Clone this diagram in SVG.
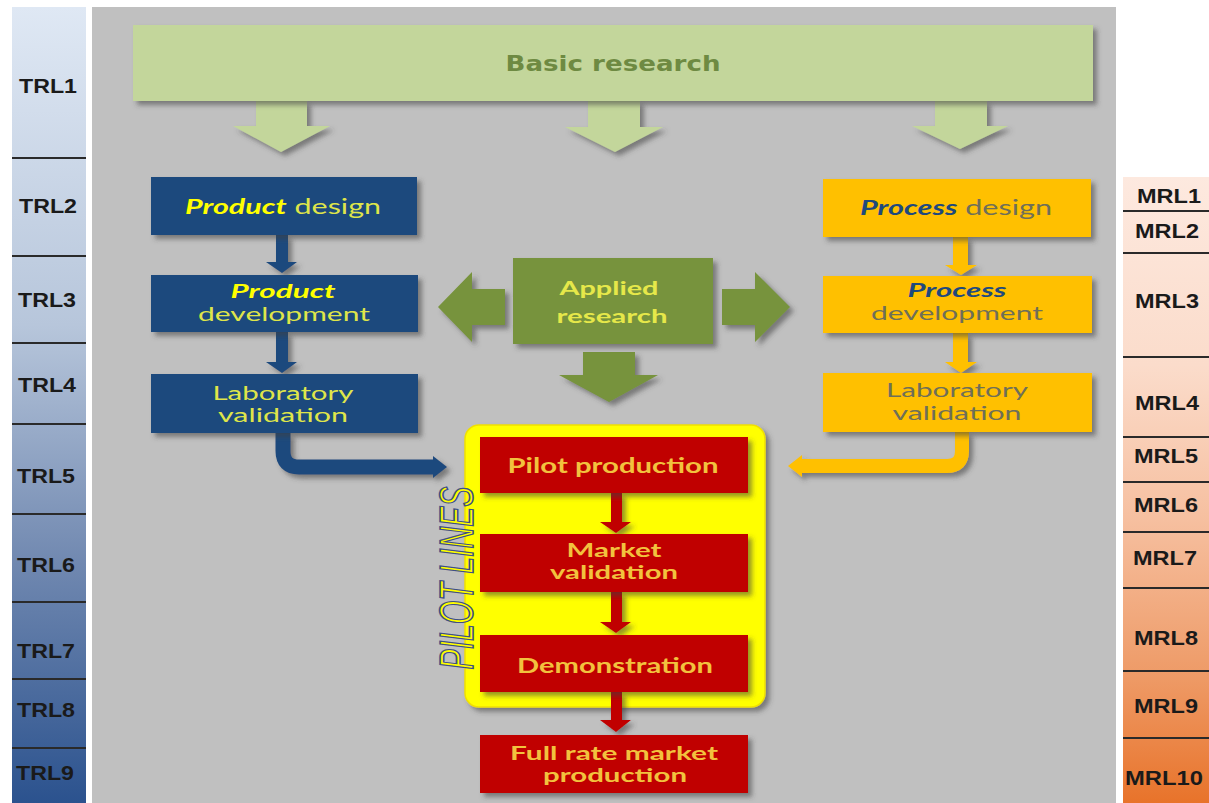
<svg xmlns="http://www.w3.org/2000/svg" width="1209" height="803" viewBox="0 0 1209 803">
<defs>
<linearGradient id="trlGrad" x1="0" y1="7" x2="0" y2="803" gradientUnits="userSpaceOnUse">
<stop offset="0" stop-color="#dfe8f4"/>
<stop offset="0.4" stop-color="#b7c6db"/>
<stop offset="0.7" stop-color="#7088b0"/>
<stop offset="1" stop-color="#2b528e"/>
</linearGradient>
<linearGradient id="mrlGrad" x1="0" y1="177" x2="0" y2="803" gradientUnits="userSpaceOnUse">
<stop offset="0" stop-color="#fde9df"/>
<stop offset="0.3" stop-color="#fbdccb"/>
<stop offset="0.55" stop-color="#f6bf9f"/>
<stop offset="0.8" stop-color="#ee9a66"/>
<stop offset="1" stop-color="#e8732a"/>
</linearGradient>
<filter id="shd" x="-10%" y="-10%" width="130%" height="140%">
<feDropShadow dx="4" dy="4" stdDeviation="2.5" flood-color="#404040" flood-opacity="0.55"/>
</filter>
<style>
.lvl{font-family:"Liberation Sans",Arial,sans-serif;font-weight:bold;font-size:20px;fill:#1a1a1a;text-anchor:middle}
.div{stroke:#2a2a2a;stroke-width:2}
.box{font-family:Lato,"Liberation Sans",sans-serif;font-size:21px;text-anchor:middle}
.two{font-size:18.5px}
.blueT{fill:#dfe54a}
.em{font-weight:bold;font-style:italic}
.redT{fill:#f2c23e;font-weight:bold}
.appT{fill:#e6e84a;font-weight:bold}
.orgT{fill:#6f6f58}
</style>
</defs>

<!-- background -->
<rect x="0" y="0" width="1209" height="803" fill="#ffffff"/>
<rect x="92" y="7" width="1024" height="796" fill="#c0c0c0"/>

<!-- TRL scale -->
<g id="trl-scale">
<rect x="12" y="7" width="74" height="796" fill="url(#trlGrad)"/>
<line class="div" x1="12" y1="158" x2="86" y2="158"/>
<line class="div" x1="12" y1="256" x2="86" y2="256"/>
<line class="div" x1="12" y1="343" x2="86" y2="343"/>
<line class="div" x1="12" y1="424" x2="86" y2="424"/>
<line class="div" x1="12" y1="514" x2="86" y2="514"/>
<line class="div" x1="12" y1="602" x2="86" y2="602"/>
<line class="div" x1="12" y1="679" x2="86" y2="679"/>
<line class="div" x1="12" y1="748" x2="86" y2="748"/>
<text class="lvl" x="48" y="93" textLength="58" lengthAdjust="spacingAndGlyphs">TRL1</text>
<text class="lvl" x="48" y="213" textLength="58" lengthAdjust="spacingAndGlyphs">TRL2</text>
<text class="lvl" x="47" y="307" textLength="58" lengthAdjust="spacingAndGlyphs">TRL3</text>
<text class="lvl" x="47" y="392" textLength="58" lengthAdjust="spacingAndGlyphs">TRL4</text>
<text class="lvl" x="46" y="483" textLength="58" lengthAdjust="spacingAndGlyphs">TRL5</text>
<text class="lvl" x="46" y="572" textLength="58" lengthAdjust="spacingAndGlyphs">TRL6</text>
<text class="lvl" x="46" y="658" textLength="58" lengthAdjust="spacingAndGlyphs">TRL7</text>
<text class="lvl" x="46" y="717" textLength="58" lengthAdjust="spacingAndGlyphs">TRL8</text>
<text class="lvl" x="45" y="780" textLength="58" lengthAdjust="spacingAndGlyphs">TRL9</text>
</g>

<!-- MRL scale -->
<g id="mrl-scale">
<rect x="1123" y="177" width="86" height="626" fill="url(#mrlGrad)"/>
<line class="div" x1="1123" y1="211" x2="1209" y2="211"/>
<line class="div" x1="1123" y1="253" x2="1209" y2="253"/>
<line class="div" x1="1123" y1="357" x2="1209" y2="357"/>
<line class="div" x1="1123" y1="437" x2="1209" y2="437"/>
<line class="div" x1="1123" y1="482" x2="1209" y2="482"/>
<line class="div" x1="1123" y1="532" x2="1209" y2="532"/>
<line class="div" x1="1123" y1="588" x2="1209" y2="588"/>
<line class="div" x1="1123" y1="671" x2="1209" y2="671"/>
<line class="div" x1="1123" y1="738" x2="1209" y2="738"/>
<text class="lvl" x="1169" y="203" textLength="64" lengthAdjust="spacingAndGlyphs">MRL1</text>
<text class="lvl" x="1167" y="238" textLength="64" lengthAdjust="spacingAndGlyphs">MRL2</text>
<text class="lvl" x="1167" y="308" textLength="64" lengthAdjust="spacingAndGlyphs">MRL3</text>
<text class="lvl" x="1167" y="410" textLength="64" lengthAdjust="spacingAndGlyphs">MRL4</text>
<text class="lvl" x="1166" y="463" textLength="64" lengthAdjust="spacingAndGlyphs">MRL5</text>
<text class="lvl" x="1166" y="512" textLength="64" lengthAdjust="spacingAndGlyphs">MRL6</text>
<text class="lvl" x="1165" y="565" textLength="64" lengthAdjust="spacingAndGlyphs">MRL7</text>
<text class="lvl" x="1166" y="645" textLength="64" lengthAdjust="spacingAndGlyphs">MRL8</text>
<text class="lvl" x="1166" y="713" textLength="64" lengthAdjust="spacingAndGlyphs">MRL9</text>
<text class="lvl" x="1164" y="785" textLength="78" lengthAdjust="spacingAndGlyphs">MRL10</text>
</g>

<!-- connectors -->
<g id="connectors" filter="url(#shd)">
<polygon fill="#c3d69b" points="256,101 307,101 307,126 330,126 281,152 233,126 256,126"/>
<polygon fill="#c3d69b" points="588,101 640,101 640,127 663,127 615,152 565,127 588,127"/>
<polygon fill="#c3d69b" points="935,101 987,101 987,126 1008,126 960,149 912,126 935,126"/>
<polygon fill="#77933c" points="505,289 472,289 472,272 438,307 472,342 472,325 505,325"/>
<polygon fill="#77933c" points="722,289 755,289 755,272 790,307 755,342 755,325 722,325"/>
<polygon fill="#77933c" points="583,352 635,352 635,375 658,375 609,402 559,375 583,375"/>
<polygon fill="#1f497d" points="276,235 288,235 288,262 297,262 282,273 266,262 276,262"/>
<polygon fill="#1f497d" points="276,332 288,332 288,362 297,362 282,373 266,362 276,362"/>
<path d="M283,433 V451 Q283,467 299,467 H436" fill="none" stroke="#1f497d" stroke-width="15"/>
<polygon fill="#1f497d" points="433,456 447,467 433,478"/>
<polygon fill="#ffc000" points="953,237 968,237 968,265 977,265 961,275 945,265 953,265"/>
<polygon fill="#ffc000" points="953,333 968,333 968,362 977,362 961,373 945,362 953,362"/>
<path d="M962,432 V451 Q962,466 947,466 H800" fill="none" stroke="#ffc000" stroke-width="14"/>
<polygon fill="#ffc000" points="802,455 788,466 802,477"/>
</g>

<!-- basic research -->
<g id="basic-research">
<rect x="133" y="25" width="960" height="76" fill="#c3d69b" filter="url(#shd)"/>
<text x="613" y="71" font-family="'DejaVu Sans',Verdana,sans-serif" font-weight="bold" font-size="22" fill="#6e8a42" text-anchor="middle" textLength="215" lengthAdjust="spacingAndGlyphs">Basic research</text>
</g>

<!-- product column -->
<g id="product-design">
<rect x="151" y="177" width="266" height="58" fill="#1f497d" filter="url(#shd)"/>
<text class="box blueT" x="283" y="214" textLength="196" lengthAdjust="spacingAndGlyphs"><tspan class="em" fill="#ffff00">Product</tspan> design</text>
</g>
<g id="product-development">
<rect x="151" y="275" width="267" height="57" fill="#1f497d" filter="url(#shd)"/>
<text class="box two em" x="283" y="298" fill="#ffff00" textLength="105" lengthAdjust="spacingAndGlyphs">Product</text>
<text class="box two blueT" x="284" y="321" textLength="172" lengthAdjust="spacingAndGlyphs">development</text>
</g>
<g id="product-lab-validation">
<rect x="151" y="374" width="267" height="59" fill="#1f497d" filter="url(#shd)"/>
<text class="box two blueT" x="283" y="400" textLength="141" lengthAdjust="spacingAndGlyphs">Laboratory</text>
<text class="box two blueT" x="283" y="422" textLength="130" lengthAdjust="spacingAndGlyphs">validation</text>
</g>

<!-- applied research -->
<g id="applied-research">
<rect x="513" y="258" width="200" height="86" fill="#77933c" filter="url(#shd)"/>
<text class="box two appT" x="609" y="295" textLength="99" lengthAdjust="spacingAndGlyphs">Applied</text>
<text class="box two appT" x="612" y="323" textLength="111" lengthAdjust="spacingAndGlyphs">research</text>
</g>

<!-- process column -->
<g id="process-design">
<rect x="823" y="179" width="268" height="58" fill="#ffc000" filter="url(#shd)"/>
<text class="box orgT" x="956" y="215" textLength="192" lengthAdjust="spacingAndGlyphs"><tspan class="em" fill="#1f497d">Process</tspan> design</text>
</g>
<g id="process-development">
<rect x="823" y="276" width="269" height="57" fill="#ffc000" filter="url(#shd)"/>
<text class="box two em" x="957" y="297" fill="#1f497d" textLength="99" lengthAdjust="spacingAndGlyphs">Process</text>
<text class="box two orgT" x="957" y="320" textLength="172" lengthAdjust="spacingAndGlyphs">development</text>
</g>
<g id="process-lab-validation">
<rect x="823" y="373" width="269" height="59" fill="#ffc000" filter="url(#shd)"/>
<text class="box two orgT" x="957" y="397" textLength="142" lengthAdjust="spacingAndGlyphs">Laboratory</text>
<text class="box two orgT" x="957" y="420" textLength="129" lengthAdjust="spacingAndGlyphs">validation</text>
</g>

<!-- pilot lines -->
<g id="pilot-lines">
<rect x="465" y="425" width="300" height="282" rx="14" fill="#ffff00" stroke="#f0e000" stroke-width="1.5" filter="url(#shd)"/>
<text transform="translate(473,578) rotate(-90) scale(1,1.6)" font-family="'Liberation Sans',Arial,sans-serif" font-style="italic" font-size="30" fill="#ffff00" stroke="#3e4e86" stroke-width="1" text-anchor="middle" textLength="183" lengthAdjust="spacingAndGlyphs">PILOT LINES</text>
</g>
<g id="red-arrows" filter="url(#shd)">
<polygon fill="#c00000" points="611,493 622,493 622,522 631,522 616,533 600,522 611,522"/>
<polygon fill="#c00000" points="611,592 622,592 622,622 631,622 616,633 600,622 611,622"/>
<polygon fill="#c00000" points="611,692 622,692 622,720 631,720 616,732 600,720 611,720"/>
</g>
<g id="pilot-production">
<rect x="480" y="437" width="268" height="56" fill="#c00000" filter="url(#shd)"/>
<text class="box redT" x="613" y="473" textLength="211" lengthAdjust="spacingAndGlyphs">Pilot production</text>
</g>
<g id="market-validation">
<rect x="480" y="534" width="268" height="58" fill="#c00000" filter="url(#shd)"/>
<text class="box two redT" x="614" y="557" textLength="95" lengthAdjust="spacingAndGlyphs">Market</text>
<text class="box two redT" x="614" y="579" textLength="128" lengthAdjust="spacingAndGlyphs">validation</text>
</g>
<g id="demonstration">
<rect x="480" y="635" width="268" height="57" fill="#c00000" filter="url(#shd)"/>
<text class="box redT" x="615" y="673" textLength="196" lengthAdjust="spacingAndGlyphs">Demonstration</text>
</g>
<g id="full-rate-production">
<rect x="480" y="735" width="268" height="58" fill="#c00000" filter="url(#shd)"/>
<text class="box two redT" x="614" y="760" textLength="208" lengthAdjust="spacingAndGlyphs">Full rate market</text>
<text class="box two redT" x="615" y="782" textLength="144" lengthAdjust="spacingAndGlyphs">production</text>
</g>
</svg>
